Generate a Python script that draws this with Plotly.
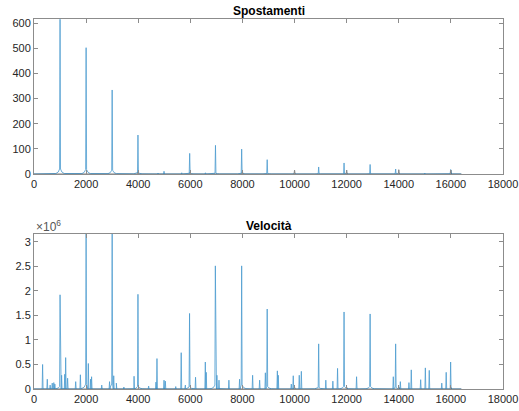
import plotly.graph_objects as go
from plotly.subplots import make_subplots

# ---------------- data ----------------
# Top: "Spostamenti" spectrum peaks
disp_freq   = [1000, 2000, 3000, 3990, 4760, 4990, 5670, 5975, 6580, 6965, 7970, 8950, 10925, 11900, 12900, 13880, 15000, 15990]
disp_height = [615,  502,  334,  155,  4,    11,   5,    82,   5,    114,  99,   57,   28,    44,    38,    20,    4,     18]
disp_skirt  = [20,   18,   15,   6,    0,    0,    0,    3,    0,    3,    3,    2,    1,     1,     1,     1,     0,     1]

# Top: secondary (grey) trace peaks
disp2_freq   = [4000, 6000, 8000, 10000, 12000, 14000, 16000]
disp2_height = [8,    8,    10,   16,    16,    17,    16]

# Bottom: "Velocità" spectrum peaks
vel_freq = [330, 510, 620, 700, 760, 800, 1000, 1060, 1180, 1215, 1290, 1600, 1780,
            2000, 2085, 2170, 2210, 2600, 2900, 3000, 3060, 3160, 3450, 3840, 3990,
            4400, 4680, 4720, 4990, 5040, 5440, 5650, 5810, 5970, 6200, 6575, 6610,
            6960, 7020, 7100, 7480, 7890, 7970, 8390, 8660, 8880, 8950, 9340, 9375,
            9875, 9950, 10180, 10260, 10925, 11200, 11470, 11650, 11900, 12380, 12900,
            13790, 13880, 14060, 14390, 14480, 14840, 15020, 15170, 15650, 15820, 15990]
vel_height = [0.50, 0.20, 0.08, 0.12, 0.13, 0.10, 1.92, 0.28, 0.30, 0.64, 0.22, 0.15, 0.29,
              3.30, 0.52, 0.20, 0.25, 0.08, 0.15, 3.30, 0.27, 0.12, 0.04, 0.26, 1.93,
              0.06, 0.14, 0.62, 0.18, 0.16, 0.05, 0.74, 0.08, 1.54, 0.24, 0.55, 0.34,
              2.51, 0.28, 0.18, 0.18, 0.20, 2.51, 0.28, 0.18, 0.33, 1.63, 0.37, 0.28,
              0.10, 0.27, 0.28, 0.36, 0.92, 0.18, 0.16, 0.42, 1.57, 0.25, 1.53,
              0.25, 0.92, 0.15, 0.13, 0.39, 0.19, 0.43, 0.38, 0.12, 0.34, 0.55]
vel_skirt = {1000: 0.05, 2000: 0.10, 3000: 0.10, 3990: 0.05, 5970: 0.04, 6960: 0.08,
             7970: 0.08, 8950: 0.05, 10925: 0.03, 11900: 0.05, 12900: 0.05, 13880: 0.03}

# Bottom: secondary (grey) trace peaks
vel2_freq   = [10000, 12000, 14000, 16000]
vel2_height = [0.04,  0.04,  0.04,  0.03]

data_end = 16400
x_ticks = [0, 2000, 4000, 6000, 8000, 10000, 12000, 14000, 16000, 18000]
top_ticks = [0, 100, 200, 300, 400, 500, 600]
bot_ticks = [0, 0.5, 1, 1.5, 2, 2.5, 3]
bot_ticklabels = ["0", "0.5", "1", "1.5", "2", "2.5", "3"]


def spectrum(freqs, heights, skirts, scale=1.0, end=data_end):
    pts = [(0, 0), (end, 0)]
    for f, h, s in zip(freqs, heights, skirts):
        h *= scale
        s *= scale
        if s > 0:
            pts += [(f - 160, s * 0.1), (f - 70, s * 0.4), (f + 70, s * 0.4), (f + 160, s * 0.1)]
        pts += [(f - 18, s), (f, h), (f + 18, s)]
    pts.sort(key=lambda p: p[0])
    return [p[0] for p in pts], [p[1] for p in pts]


blue = "#0072BD"
grey = "#555555"
axis_col = "#8c8c8c"
txt = "#262626"
font_family = "Liberation Sans, Arial, Helvetica, sans-serif"

fig = make_subplots(rows=2, cols=1, vertical_spacing=0.162)

gx, gy = spectrum(disp2_freq, disp2_height, [0] * len(disp2_freq))
fig.add_trace(go.Scatter(x=gx, y=gy, mode="lines", line=dict(color=grey, width=0.8),
                         showlegend=False, hoverinfo="skip"), row=1, col=1)
x1, y1 = spectrum(disp_freq, disp_height, disp_skirt)
fig.add_trace(go.Scatter(x=x1, y=y1, mode="lines", line=dict(color=blue, width=0.8),
                         opacity=0.7, showlegend=False), row=1, col=1)

gx2, gy2 = spectrum(vel2_freq, vel2_height, [0] * len(vel2_freq), scale=1e6)
fig.add_trace(go.Scatter(x=gx2, y=gy2, mode="lines", line=dict(color=grey, width=0.8),
                         showlegend=False, hoverinfo="skip"), row=2, col=1)
vs = [vel_skirt.get(f, 0.0) for f in vel_freq]
x2, y2 = spectrum(vel_freq, vel_height, vs, scale=1e6)
fig.add_trace(go.Scatter(x=x2, y=y2, mode="lines", line=dict(color=blue, width=0.8),
                         opacity=0.7, showlegend=False), row=2, col=1)

axis_common = dict(showgrid=False, zeroline=False, showline=True, linecolor=axis_col,
                   linewidth=1, mirror="ticks", ticks="inside", ticklen=4, tickcolor=axis_col,
                   automargin=False,
                   tickfont=dict(size=11, color=txt, family=font_family))

for r in (1, 2):
    fig.update_xaxes(range=[0, 18000], tickvals=x_ticks, ticktext=[str(v) for v in x_ticks],
                     row=r, col=1, **axis_common)

fig.update_yaxes(range=[0, 616], tickvals=top_ticks, ticktext=[str(v) for v in top_ticks],
                 row=1, col=1, **axis_common)
fig.update_yaxes(range=[0, 3.16e6], tickvals=[v * 1e6 for v in bot_ticks], ticktext=bot_ticklabels,
                 row=2, col=1, **axis_common)

fig.update_layout(
    width=519, height=411,
    margin=dict(l=34, r=16, t=19, b=22, autoexpand=False),
    paper_bgcolor="white", plot_bgcolor="white",
    font=dict(family=font_family, color=txt),
)
fig.update_xaxes(domain=[0, 1])
fig.update_yaxes(domain=[0.581, 1], row=1, col=1)
fig.update_yaxes(domain=[0, 0.419], row=2, col=1)

fig.add_annotation(text="<b>Spostamenti</b>", xref="paper", yref="paper", x=0.5, y=1,
                   xanchor="center", yanchor="bottom", yshift=-1, showarrow=False,
                   font=dict(size=12, color="black", family=font_family))
fig.add_annotation(text="<b>Velocità</b>", xref="paper", yref="paper", x=0.5, y=0.419,
                   xanchor="center", yanchor="bottom", yshift=-1, showarrow=False,
                   font=dict(size=12, color="black", family=font_family))
fig.add_annotation(text="×10<sup>6</sup>", xref="paper", yref="paper", x=0, y=0.419,
                   xanchor="left", yanchor="bottom", yshift=-2, showarrow=False,
                   font=dict(size=12, color="#555555", family=font_family))

# remove the default 8 px page margin so the figure fills the window exactly
fig.write_html("out.html", config={"displayModeBar": False},
               post_script="document.body.style.margin='0px';")
